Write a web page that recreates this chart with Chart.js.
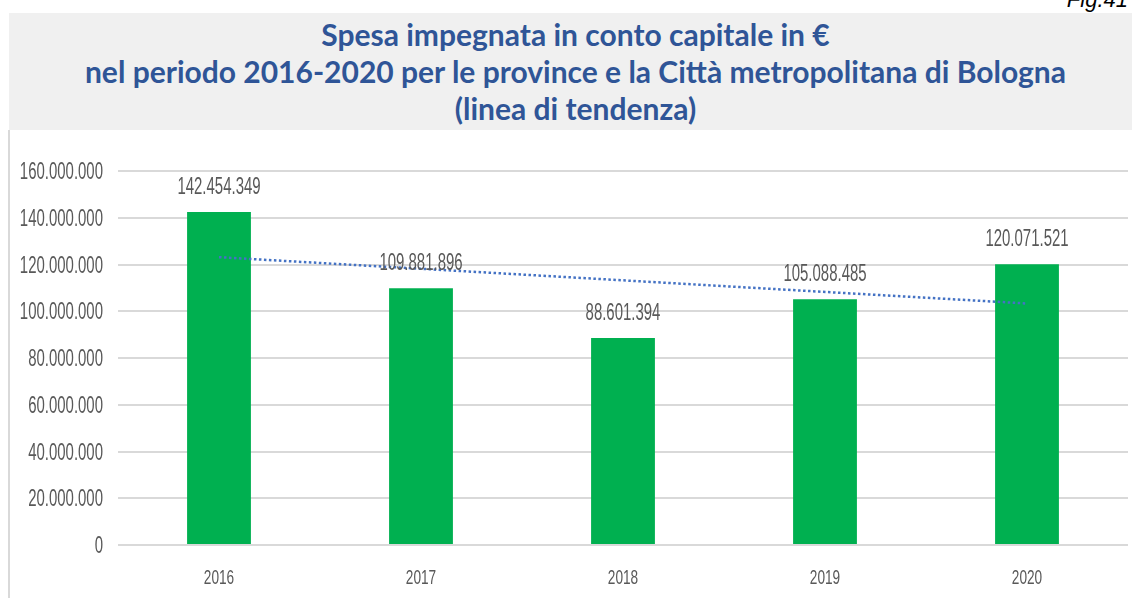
<!DOCTYPE html>
<html lang="it">
<head>
<meta charset="utf-8">
<script src="https://cdn.jsdelivr.net/npm/chart.js@4.4.1/dist/chart.umd.min.js"></script>
<style>
    html, body { margin: 0; padding: 0; background: #fff; width: 1132px; height: 598px; overflow: hidden; position: relative; }
    #fig { position: absolute; right: 4px; top: -13px; font: italic 22px "Liberation Sans", Arial, sans-serif; color: #000; }
    #head {
        position: absolute; left: 9px; top: 13px; width: 1123px; height: 117px;
        background: #f0f0f0; color: #2f5597; text-align: center;
        font: bold 30px Lato, "Open Sans", sans-serif; line-height: 37px; padding: 3px 0 0 10px; box-sizing: border-box;
        white-space: nowrap; overflow: hidden;
    }
    #box { position: absolute; left: 8px; top: 130px; width: 1124px; height: 468px; border-left: 2px solid #d9d9d9; box-sizing: border-box; }
    #wrap { position: absolute; left: 10px; top: 130px; width: 1122px; height: 468px; }
</style>
</head>
<body>
<div id="fig">Fig.41</div>
<div id="head">Spesa impegnata in conto capitale in €<br>nel periodo 2016-2020 per le province e la Città metropolitana di Bologna<br>(linea di tendenza)</div>
<div id="box"></div>
<div id="wrap"><canvas id="chart" width="1122" height="468"></canvas></div>
<script>
const years = ['2016', '2017', '2018', '2019', '2020']
const spesa = [142454349, 109881896, 88601394, 105088485, 120071521]
// trend line end points (2016 and 2020)
const trendStart = 123130000
const trendEnd = 103310000
const yTicks = [0, 20000000, 40000000, 60000000, 80000000, 100000000, 120000000, 140000000, 160000000]

const labelColor = '#595959'
const squeeze = 0.65

function fmt(v) {
    return v.toString().replace(/\B(?=(\d{3})+(?!\d))/g, '.')
}

// narrow text: Liberation Sans squeezed horizontally
function narrowText(ctx, text, x, y, align, size) {
    ctx.save()
    ctx.font = size + 'px "Liberation Sans", Arial, sans-serif'
    ctx.fillStyle = labelColor
    ctx.textBaseline = 'alphabetic'
    ctx.textAlign = align
    ctx.translate(x, y)
    ctx.scale(squeeze, 1)
    ctx.fillText(text, 0, 0)
    ctx.restore()
}

// axis tick labels and values above the bars
const labelsPlugin = {
    id: 'labelsPlugin',
    afterDatasetsDraw(chart) {
        const ctx = chart.ctx
        const xs = chart.scales.x
        const ys = chart.scales.y
        yTicks.forEach(v => {
            narrowText(ctx, fmt(v), chart.chartArea.left - 15, ys.getPixelForValue(v) + 8, 'right', 23)
        })
        years.forEach((y, k) => {
            narrowText(ctx, y, xs.getPixelForValue(k), chart.chartArea.bottom + 39, 'center', 21)
        })
        chart.getDatasetMeta(1).data.forEach((bar, k) => {
            narrowText(ctx, fmt(spesa[k]), bar.x, bar.y - 18, 'center', 23)
        })
    }
}

const ctx = document.getElementById('chart').getContext('2d')
new Chart(ctx, {
    data: {
        labels: years,
        datasets: [{
            type: 'line',
            data: [trendStart, null, null, null, trendEnd],
            spanGaps: true,
            borderColor: '#4472c4',
            borderWidth: 2.5,
            borderDash: [2.5, 2.5],
            pointRadius: 0,
            order: 0
        }, {
            type: 'bar',
            data: spesa,
            backgroundColor: '#00b050',
            categoryPercentage: 1,
            barPercentage: 0.316,
            order: 1
        }]
    },
    options: {
        responsive: false,
        animation: false,
        layout: { padding: { top: 41, right: 4, left: 0, bottom: 0 } },
        plugins: {
            legend: { display: false },
            tooltip: { enabled: false }
        },
        scales: {
            x: {
                grid: { display: false },
                border: { display: false },
                ticks: { display: false },
                afterFit(scale) { scale.height = 53 }
            },
            y: {
                min: 0,
                max: 160000000,
                afterBuildTicks(scale) { scale.ticks = yTicks.map(v => ({ value: v })) },
                grid: { color: '#d9d9d9', lineWidth: 2, drawTicks: false },
                border: { display: false },
                ticks: { display: false },
                afterFit(scale) { scale.width = 108 }
            }
        }
    },
    plugins: [labelsPlugin]
})
</script>
</body>
</html>
